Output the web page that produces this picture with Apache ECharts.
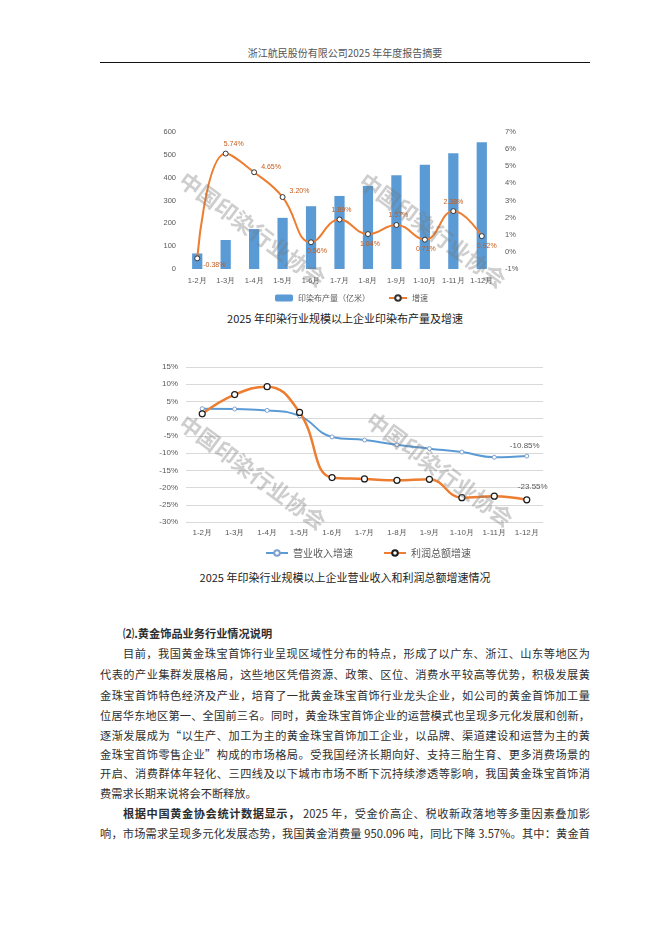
<!DOCTYPE html>
<html>
<head>
<meta charset="utf-8">
<script src="https://cdn.jsdelivr.net/npm/echarts@6/dist/echarts.min.js"></script>
<style>
  html, body { margin: 0; padding: 0; background: #fff; }
  #page { position: relative; width: 662px; height: 936px; overflow: hidden; font-family: "Noto Sans CJK SC", sans-serif; color: #2e2e2e; }
  .runhead { position: absolute; left: 100px; top: 45px; width: 490px; text-align: center; font-size: 10px; color: #555; }
  .rule { position: absolute; left: 100px; top: 62px; width: 490px; height: 0; border-top: 1.3px solid #111; }
  .caption { position: absolute; left: 100px; width: 490px; text-align: center; font-size: 11px; line-height: 14px; color: #222; }
  .txt { position: absolute; left: 100px; width: 490px; font-size: 11.2px; line-height: 20px; text-align: justify; text-align-last: justify; }
  .txt.ind { padding-left: 23px; width: 467px; }
  .txt.end { text-align-last: left; }
  #chart1 { position: absolute; left: 155px; top: 120px; width: 370px; height: 190px; }
  #chart2 { position: absolute; left: 150px; top: 355px; width: 400px; height: 210px; }
</style>
</head>
<body>
<div id="page">
  <div class="runhead">浙江航民股份有限公司2025 年年度报告摘要</div>
  <div class="rule"></div>
  <div id="chart1"></div>
  <div class="caption" style="top:311px">2025 年印染行业规模以上企业印染布产量及增速</div>
  <div id="chart2"></div>
  <div class="caption" style="top:570px">2025 年印染行业规模以上企业营业收入和利润总额增速情况</div>

  <div class="txt ind end" style="top:623px;font-weight:bold">⑵.黄金饰品业务行业情况说明</div>
  <div class="txt ind" style="top:643px">目前，我国黄金珠宝首饰行业呈现区域性分布的特点，形成了以广东、浙江、山东等地区为</div>
  <div class="txt" style="top:664px">代表的产业集群发展格局，这些地区凭借资源、政策、区位、消费水平较高等优势，积极发展黄</div>
  <div class="txt" style="top:685px">金珠宝首饰特色经济及产业，培育了一批黄金珠宝首饰行业龙头企业，如公司的黄金首饰加工量</div>
  <div class="txt" style="top:705px">位居华东地区第一、全国前三名。同时，黄金珠宝首饰企业的运营模式也呈现多元化发展和创新，</div>
  <div class="txt" style="top:725px">逐渐发展成为“以生产、加工为主的黄金珠宝首饰加工企业，以品牌、渠道建设和运营为主的黄</div>
  <div class="txt" style="top:744px">金珠宝首饰零售企业”构成的市场格局。受我国经济长期向好、支持三胎生育、更多消费场景的</div>
  <div class="txt" style="top:763px">开启、消费群体年轻化、三四线及以下城市市场不断下沉持续渗透等影响，我国黄金珠宝首饰消</div>
  <div class="txt end" style="top:783px">费需求长期来说将会不断释放。</div>
  <div class="txt ind" style="top:803px"><b>根据中国黄金协会统计数据显示，</b> 2025 年，受金价高企、税收新政落地等多重因素叠加影</div>
  <div class="txt" style="top:823px">响，市场需求呈现多元化发展态势，我国黄金消费量 950.096 吨，同比下降 3.57%。其中：黄金首</div>
</div>
<script>
// 图1：印染布产量及增速
var months = ['1-2月','1-3月','1-4月','1-5月','1-6月','1-7月','1-8月','1-9月','1-10月','1-11月','1-12月'];
var clothOutput = [68, 127, 175, 224, 275, 320, 364, 411, 457, 507, 555];
var clothGrowth = [-0.38, 5.74, 4.65, 3.20, 0.56, 1.89, 1.04, 1.57, 0.71, 2.38, 0.92];
var leftTicks = {min: 0, max: 600, interval: 100};
var rightTicks = {min: -1, max: 7, interval: 1};

// 图2：营业收入和利润总额增速
var revenueGrowth = [2.9, 2.8, 2.4, 0.8, -5.3, -6.2, -7.6, -8.7, -9.7, -11.2, -10.85];
var profitGrowth = [1.4, 7.0, 9.3, 1.8, -17.1, -17.5, -17.9, -17.6, -22.95, -22.5, -23.55];
var pctTicks = {min: -30, max: 15, interval: 5};

var watermark = '中国印染行业协会';

// 增速标签位置（样式）
var growthLabelPos = [
    ['right', [0, 7]], ['top', [8, 0]], ['right', [1, -5]], ['right', [1, -6]],
    ['bottom', [6, -1]], ['top', [2, 0]], ['bottom', [2, 0]], ['top', [2, 0]],
    ['bottom', [1, 0]], ['top', [0, 0]], ['bottom', [5, 0]]
];

function wm(x, y, size) {
    return {
        type: 'text', x: x, y: y, rotation: -36.5 * Math.PI / 180, z: 100,
        style: {
            text: watermark, fontSize: size, fontWeight: 'bold',
            fontFamily: 'Noto Sans CJK SC', fill: 'rgba(120,120,120,0.36)',
            textAlign: 'left', textVerticalAlign: 'middle'
        }
    };
}

var axisTxt = {fontSize: 7.5, color: '#595959', fontFamily: 'Liberation Sans'};

var chart1 = echarts.init(document.getElementById('chart1'));
chart1.setOption({
    animation: false,
    grid: {left: 28, right: 29, top: 12, bottom: 41},
    legend: {
        left: 115, top: 169, itemWidth: 18, itemHeight: 7, itemGap: 18,
        textStyle: {fontSize: 8, color: '#595959', fontFamily: 'Noto Sans CJK SC'},
        data: ['印染布产量（亿米）', '增速']
    },
    xAxis: {
        type: 'category', data: months,
        axisTick: {show: false}, axisLine: {show: false},
        axisLabel: Object.assign({margin: 8, interval: 0}, axisTxt)
    },
    yAxis: [
        Object.assign({type: 'value', splitLine: {show: false}, axisLine: {show: false},
            axisTick: {show: false}, axisLabel: Object.assign({margin: 7}, axisTxt)}, leftTicks),
        Object.assign({type: 'value', splitLine: {show: false}, axisLine: {show: false},
            axisTick: {show: false}, axisLabel: Object.assign({margin: 9, formatter: '{value}%'}, axisTxt)}, rightTicks)
    ],
    series: [
        {
            name: '印染布产量（亿米）', type: 'bar', yAxisIndex: 0, barWidth: '36%',
            itemStyle: {color: '#5b9bd5'}, data: clothOutput
        },
        {
            name: '增速', type: 'line', yAxisIndex: 1, smooth: 0.45,
            symbol: 'circle', symbolSize: 5,
            lineStyle: {color: '#ed7d31', width: 2},
            itemStyle: {color: '#fff', borderColor: '#333', borderWidth: 1},
            label: {show: true, fontSize: 7, color: '#c65b1a', fontFamily: 'Liberation Sans',
                formatter: function (p) { return p.value.toFixed(2) + '%'; }},
            data: clothGrowth.map(function (v, i) {
                return {value: v, label: {position: growthLabelPos[i][0], offset: growthLabelPos[i][1], distance: 3}};
            })
        }
    ],
    graphic: [wm(27, 57, 22), wm(207, 58, 22)]
});

var chart2 = echarts.init(document.getElementById('chart2'));
chart2.setOption({
    animation: false,
    grid: {left: 36, right: 7, top: 12, bottom: 43},
    legend: {
        left: 110, top: 188, itemWidth: 22, itemHeight: 7, itemGap: 30,
        textStyle: {fontSize: 10, color: '#595959', fontFamily: 'Noto Sans CJK SC'},
        data: ['营业收入增速', '利润总额增速']
    },
    xAxis: {
        type: 'category', data: months,
        axisTick: {show: false}, axisLine: {show: false},
        axisLabel: {margin: 7, interval: 0, fontSize: 8, color: '#595959', fontFamily: 'Liberation Sans'}
    },
    yAxis: Object.assign({
        type: 'value', axisLine: {show: false}, axisTick: {show: false},
        splitLine: {lineStyle: {color: '#d9d9d9', width: 1}},
        axisLabel: {margin: 8, formatter: '{value}%', fontSize: 8, color: '#595959', fontFamily: 'Liberation Sans'}
    }, pctTicks),
    series: [
        {
            name: '营业收入增速', type: 'line', smooth: 0.45,
            symbol: 'circle', symbolSize: 4,
            lineStyle: {color: '#5b9bd5', width: 2},
            itemStyle: {color: '#fff', borderColor: '#7f9fd0', borderWidth: 1},
            data: revenueGrowth.map(function (v, i) {
                return i === revenueGrowth.length - 1 ?
                    {value: v, label: {show: true, position: 'top', distance: 4, offset: [-2, 0], fontSize: 8, color: '#595959',
                        fontFamily: 'Liberation Sans', formatter: function (p) { return p.value.toFixed(2) + '%'; }}} : v;
            })
        },
        {
            name: '利润总额增速', type: 'line', smooth: 0.45,
            symbol: 'circle', symbolSize: 6,
            lineStyle: {color: '#ed7d31', width: 2.5},
            itemStyle: {color: '#fff', borderColor: '#1a1a1a', borderWidth: 1.2},
            data: profitGrowth.map(function (v, i) {
                return i === profitGrowth.length - 1 ?
                    {value: v, label: {show: true, position: 'top', distance: 5, offset: [6, 0], fontSize: 8, color: '#595959',
                        fontFamily: 'Liberation Sans', formatter: function (p) { return p.value.toFixed(2) + '%'; }}} : v;
            })
        }
    ],
    graphic: [wm(32, 65, 22), wm(219, 62, 22)]
});
</script>
</body>
</html>
